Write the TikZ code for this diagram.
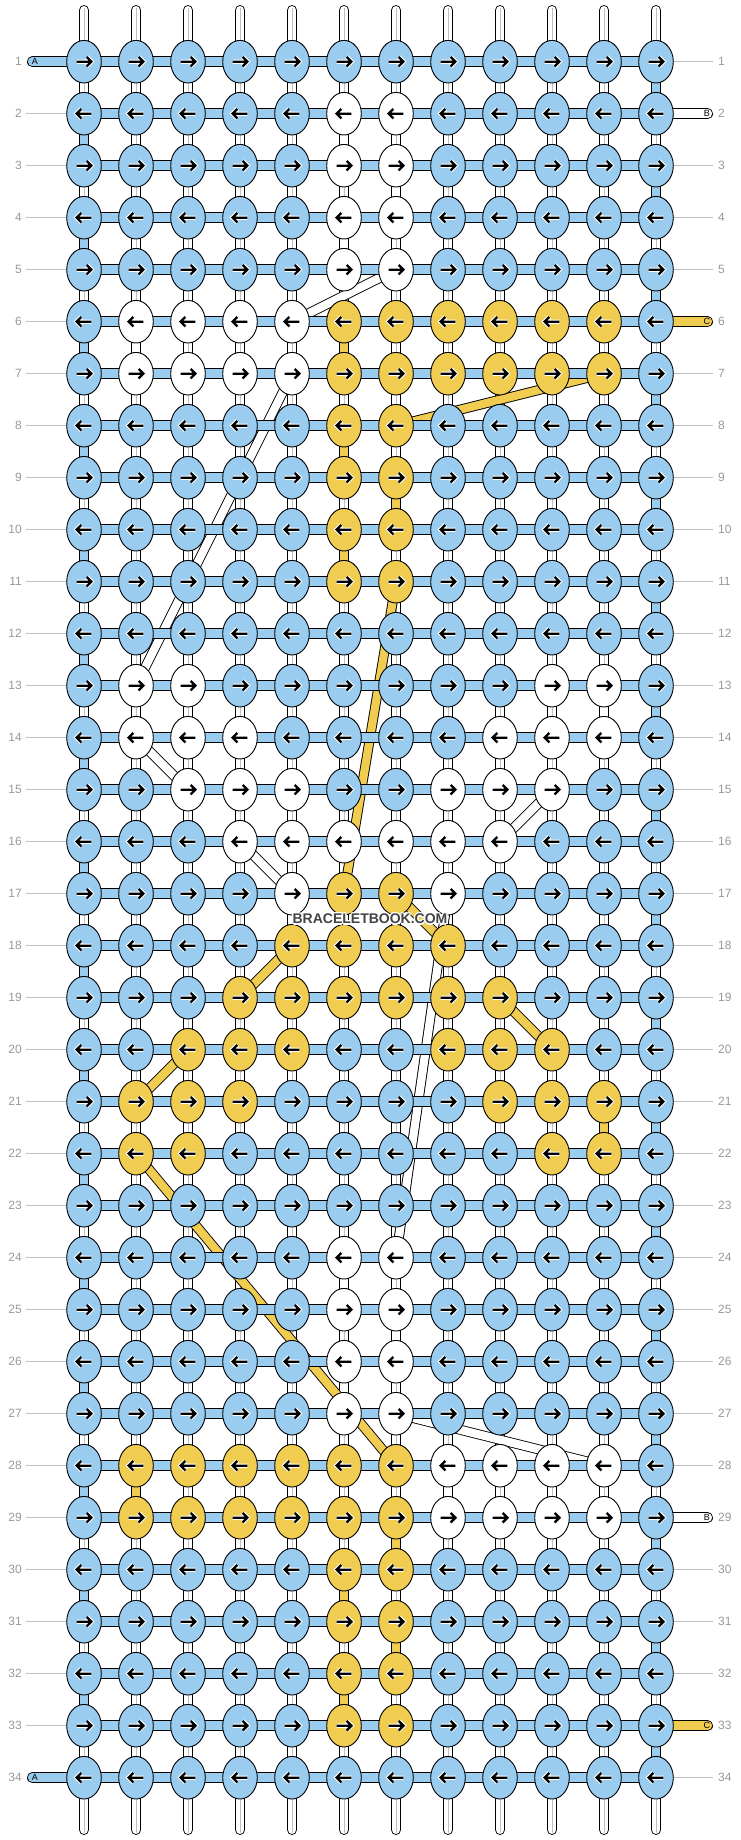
\documentclass[tikz,border=0pt]{standalone}
\usepackage{fontspec}
\setmainfont{Liberation Sans}
\usetikzlibrary{shapes.geometric}
\definecolor{cb}{RGB}{153,204,238}
\definecolor{cy}{RGB}{240,204,80}
\definecolor{cw}{RGB}{255,255,255}
\definecolor{gl}{RGB}{192,192,192}
\definecolor{numc}{RGB}{153,153,153}
\definecolor{wmc}{RGB}{68,68,68}
\begin{document}
\begin{tikzpicture}[x=1pt,y=-1pt,
  knot/.style={ellipse,draw=black,line width=0.9pt,minimum width=34.6pt,minimum height=42.6pt,inner sep=0pt},
  strandout/.style={line width=10.7pt,draw=black,line cap=round},
  strandin/.style={line width=8.9pt,draw=white,line cap=round},
  strandmid/.style={line width=0.8pt,draw=gl},
  turnseg/.style={line width=8.9pt},
  bandout/.style={line width=10.7pt,draw=black},
  bandin/.style={line width=8.9pt,draw=cb},
  travelout/.style={line width=10pt,draw=black},
  travelin/.style={line width=8.2pt},
  guide/.style={line width=1pt,draw=gl},
  capout/.style={line width=10.7pt,draw=black,line cap=round},
  capin/.style={line width=8.9pt,line cap=round},
  rownum/.style={text=numc,font=\fontsize{12}{12}\selectfont,inner sep=0pt},
  strandlbl/.style={text=black,font=\fontsize{9}{9}\selectfont,inner sep=0pt},
  arrhalo/.style={draw=white,line width=4.4pt,line join=miter},
  arrline/.style={draw=black,line width=2.3pt,line join=miter},
  wmtext/.style={font=\fontsize{14}{14}\selectfont\bfseries,inner sep=0pt}
]
\fill[white] (0,0) rectangle (740,1840);
\useasboundingbox (0,0) rectangle (740,1840);

% coordinates
\foreach \ri in {1,...,34}{
  \foreach \ci in {1,...,12}{
    \coordinate (p-\ri-\ci) at ({84+52*(\ci-1)},{61.7+52*(\ri-1)});
  }
  \coordinate (gl-\ri) at (26,{61.7+52*(\ri-1)});
  \coordinate (gr-\ri) at (713,{61.7+52*(\ri-1)});
  \coordinate (cl-\ri) at (32.35,{61.7+52*(\ri-1)});
  \coordinate (cr-\ri) at (707.65,{61.7+52*(\ri-1)});
  \coordinate (ll-\ri) at (35,{61.7+52*(\ri-1)});
  \coordinate (lr-\ri) at (706.8,{61.7+52*(\ri-1)});
  \coordinate (nlp-\ri) at (22,{61.7+52*(\ri-1)});
  \coordinate (nrp-\ri) at (718,{61.7+52*(\ri-1)});
}
\foreach \ci in {1,...,12}{
  \coordinate (t-\ci) at ({84+52*(\ci-1)},10.4);
  \coordinate (b-\ci) at ({84+52*(\ci-1)},1829.6);
  \coordinate (tg-\ci) at ({84+52*(\ci-1)},7.5);
  \coordinate (bg-\ci) at ({84+52*(\ci-1)},1832.5);
}

% vertical strands
\foreach \ci in {1,...,12}{
  \draw[strandout] (t-\ci) -- (b-\ci);
  \draw[strandin] (t-\ci) -- (b-\ci);
  \draw[strandmid] (tg-\ci) -- (bg-\ci);
}

% turning segments
\foreach \ri [evaluate=\ri as \rn using int(\ri+1)] in {1,3,...,33}{
  \draw[turnseg,draw=cb] (p-\ri-12) -- (p-\rn-12);
}
\foreach \ri [evaluate=\ri as \rn using int(\ri+1)] in {2,4,...,32}{
  \draw[turnseg,draw=cb] (p-\ri-1) -- (p-\rn-1);
}
\foreach \ci/\ri/\col [evaluate=\ri as \rn using int(\ri+1)] in
  {6/2/cw,7/3/cw,6/4/cw,2/6/cw,11/13/cw,6/24/cw,7/25/cw,6/26/cw,8/28/cw,
   6/6/cy,6/8/cy,7/9/cy,6/10/cy,11/21/cy,2/28/cy,7/29/cy,6/30/cy,7/31/cy,6/32/cy}{
  \draw[turnseg,draw=\col] (p-\ri-\ci) -- (p-\rn-\ci);
}

% travelling strands
\foreach \rA/\cA/\rB/\cB/\col in
  {5/7/6/5/cw,7/5/13/2/cw,14/2/15/3/cw,15/10/16/9/cw,16/4/17/5/cw,17/8/24/7/cw,27/7/28/11/cw,
   7/11/8/7/cy,11/7/17/6/cy,17/7/18/8/cy,18/5/19/4/cy,19/9/20/10/cy,20/3/21/2/cy,22/2/28/7/cy}{
  \draw[travelout] (p-\rA-\cA) -- (p-\rB-\cB);
  \draw[travelin,draw=\col] (p-\rA-\cA) -- (p-\rB-\cB);
}

% horizontal bands
\foreach \ri in {1,...,34}{
  \draw[bandout] (p-\ri-1) -- (p-\ri-12);
  \draw[bandin] (p-\ri-1) -- (p-\ri-12);
}

% guide lines
\foreach \ri in {2,...,33}{
  \draw[guide] (gl-\ri) -- (p-\ri-1);
}
\foreach \ri in {1,3,4,5,7,8,9,10,11,12,13,14,15,16,17,18,19,20,21,22,23,24,25,26,27,28,30,31,32,34}{
  \draw[guide] (p-\ri-12) -- (gr-\ri);
}

% strand end capsules
\foreach \ri/\col/\lbl in {1/cb/A,34/cb/A}{
  \draw[capout] (cl-\ri) -- (p-\ri-1);
  \draw[capin,draw=\col] (cl-\ri) -- (p-\ri-1);
  \node[strandlbl] (sl-\ri) at (ll-\ri) {\lbl};
}
\foreach \ri/\col/\lbl in {2/cw/B,6/cy/C,29/cw/B,33/cy/C}{
  \draw[capout] (p-\ri-12) -- (cr-\ri);
  \draw[capin,draw=\col] (p-\ri-12) -- (cr-\ri);
  \node[strandlbl] (sr-\ri) at (lr-\ri) {\lbl};
}

% row numbers
\foreach \ri in {1,...,34}{
  \node[rownum,anchor=east] (nl-\ri) at (nlp-\ri) {\ri};
  \node[rownum,anchor=west] (nr-\ri) at (nrp-\ri) {\ri};
}

% knots
\foreach \ri/\cols in {
  1/{b,b,b,b,b,b,b,b,b,b,b,b},
  2/{b,b,b,b,b,w,w,b,b,b,b,b},
  3/{b,b,b,b,b,w,w,b,b,b,b,b},
  4/{b,b,b,b,b,w,w,b,b,b,b,b},
  5/{b,b,b,b,b,w,w,b,b,b,b,b},
  6/{b,w,w,w,w,y,y,y,y,y,y,b},
  7/{b,w,w,w,w,y,y,y,y,y,y,b},
  8/{b,b,b,b,b,y,y,b,b,b,b,b},
  9/{b,b,b,b,b,y,y,b,b,b,b,b},
  10/{b,b,b,b,b,y,y,b,b,b,b,b},
  11/{b,b,b,b,b,y,y,b,b,b,b,b},
  12/{b,b,b,b,b,b,b,b,b,b,b,b},
  13/{b,w,w,b,b,b,b,b,b,w,w,b},
  14/{b,w,w,w,b,b,b,b,w,w,w,b},
  15/{b,b,w,w,w,b,b,w,w,w,b,b},
  16/{b,b,b,w,w,w,w,w,w,b,b,b},
  17/{b,b,b,b,w,y,y,w,b,b,b,b},
  18/{b,b,b,b,y,y,y,y,b,b,b,b},
  19/{b,b,b,y,y,y,y,y,y,b,b,b},
  20/{b,b,y,y,y,b,b,y,y,y,b,b},
  21/{b,y,y,y,b,b,b,b,y,y,y,b},
  22/{b,y,y,b,b,b,b,b,b,y,y,b},
  23/{b,b,b,b,b,b,b,b,b,b,b,b},
  24/{b,b,b,b,b,w,w,b,b,b,b,b},
  25/{b,b,b,b,b,w,w,b,b,b,b,b},
  26/{b,b,b,b,b,w,w,b,b,b,b,b},
  27/{b,b,b,b,b,w,w,b,b,b,b,b},
  28/{b,y,y,y,y,y,y,w,w,w,w,b},
  29/{b,y,y,y,y,y,y,w,w,w,w,b},
  30/{b,b,b,b,b,y,y,b,b,b,b,b},
  31/{b,b,b,b,b,y,y,b,b,b,b,b},
  32/{b,b,b,b,b,y,y,b,b,b,b,b},
  33/{b,b,b,b,b,y,y,b,b,b,b,b},
  34/{b,b,b,b,b,b,b,b,b,b,b,b}}{
  \pgfmathtruncatemacro\dir{1-2*mod(\ri+1,2)}
  \foreach \k [count=\ci] in \cols {
    \node[knot,fill=c\k] (k-\ri-\ci) at (p-\ri-\ci) {};
    \draw[arrhalo,shift={(p-\ri-\ci)},xscale=\dir] (-7.3,0) -- (7,0) (2.6,-4.8) -- (7.4,0) -- (2.6,4.8);
    \draw[arrline,shift={(p-\ri-\ci)},xscale=\dir] (-7.3,0) -- (7,0) (2.6,-4.8) -- (7.4,0) -- (2.6,4.8);
  }
}

% watermark
\foreach \dx/\dy [count=\i] in {-1.3/0,1.3/0,0/-1.3,0/1.3,-0.9/-0.9,0.9/-0.9,-0.9/0.9,0.9/0.9}{
  \node[wmtext,text=white] (wmh-\i) at ({370+\dx},{919+\dy}) {BRACELETBOOK.COM};
}
\node[wmtext,text=wmc] (wm) at (370,919) {BRACELETBOOK.COM};
\end{tikzpicture}
\end{document}
